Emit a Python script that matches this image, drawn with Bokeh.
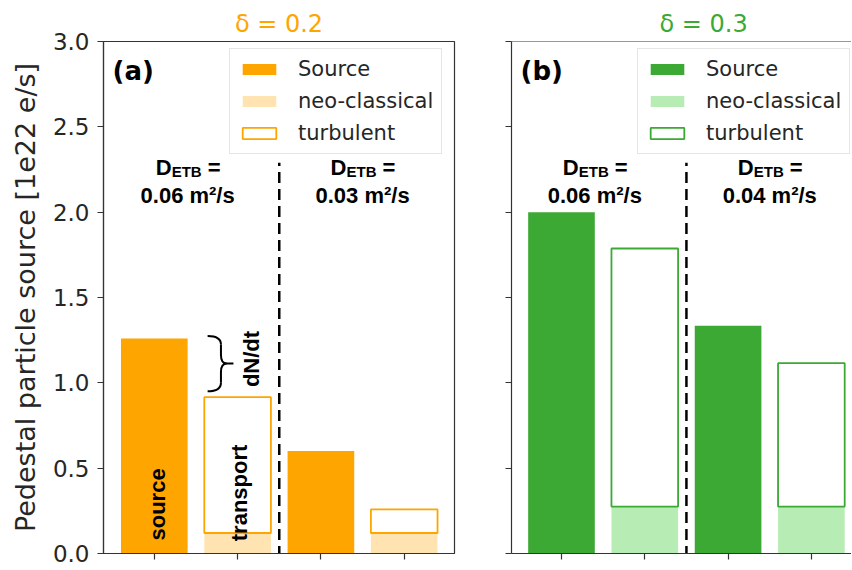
from math import pi
from bokeh.plotting import figure
from bokeh.models import (Range1d, FixedTicker, PrintfTickFormatter, Label, Span,
                          Legend, LegendItem)
from bokeh.layouts import row
from bokeh.embed import file_html
from bokeh.resources import INLINE

# ---------------- data ----------------
source_x = [0, 2]
transport_x = [1, 3]
x_ticks = [0, 1, 2, 3]
y_ticks = [0.0, 0.5, 1.0, 1.5, 2.0, 2.5, 3.0]

a_source = [1.26, 0.60]
a_neo = [0.12, 0.12]
a_turb = [0.796, 0.138]

b_source = [2.00, 1.335]
b_neo = [0.275, 0.275]
b_turb = [1.512, 0.84]

panel_titles = ["δ = 0.2", "δ = 0.3"]
panel_tags = ["(a)", "(b)"]
a_detb = ["0.06 m²/s", "0.03 m²/s"]
b_detb = ["0.06 m²/s", "0.04 m²/s"]
legend_labels = ["Source", "neo-classical", "turbulent"]
y_label = "Pedestal particle source [1e22 e/s]"

# ---------------- style ----------------
ORANGE = "#FFA500"
ORANGE_L = "#FFE4B2"
GREEN = "#3DA935"
GREEN_L = "#B8ECB5"
AX = "#333333"
TXT = "#262626"
BOLD = "Liberation Sans"
SANS = "DejaVu Sans"

Y_MIN, Y_MAX = 0.0, 3.0
FRAME_H = 512
PX_PER_UNIT = 83.3


def style_axes(p, show_labels):
    p.xgrid.visible = False
    p.ygrid.visible = False
    p.xaxis.ticker = FixedTicker(ticks=x_ticks)
    p.yaxis.ticker = FixedTicker(ticks=y_ticks)
    p.yaxis.formatter = PrintfTickFormatter(format="%.1f")
    for ax in (p.xaxis, p.yaxis):
        ax.axis_line_color = AX
        ax.axis_line_width = 1.2
        ax.major_tick_line_color = AX
        ax.major_tick_line_width = 1.2
        ax.major_tick_out = 6
        ax.major_tick_in = 0
        ax.minor_tick_line_color = None
    p.xaxis.major_label_overrides = {t: "" for t in x_ticks}
    p.xaxis.major_label_standoff = 0
    if show_labels:
        p.yaxis.major_label_text_font_size = "23px"
        p.yaxis.major_label_text_font = SANS
        p.yaxis.major_label_text_color = TXT
        p.yaxis.major_label_standoff = 8
        p.yaxis.axis_label = y_label
        p.yaxis.axis_label_text_font = SANS
        p.yaxis.axis_label_text_font_size = "27px"
        p.yaxis.axis_label_text_font_style = "normal"
        p.yaxis.axis_label_text_color = TXT
        p.yaxis.axis_label_standoff = 9
    else:
        p.yaxis.major_label_overrides = {t: "" for t in y_ticks}
        p.yaxis.major_label_standoff = 0


def style_title(p, text, color, align, offset):
    p.title.text = text
    p.title.align = align
    p.title.offset = offset
    p.title.text_font = SANS
    p.title.text_font_size = "24px"
    p.title.text_font_style = "normal"
    p.title.text_color = color
    p.title.standoff = 8


def add_panel(p, source, neo, turb, dark, light, tag, detb):
    turb_top = [n + t for n, t in zip(neo, turb)]
    r_src = p.vbar(x=source_x, top=source, bottom=0, width=0.8,
                   fill_color=dark, line_color=None)
    r_neo = p.vbar(x=transport_x, top=neo, bottom=0, width=0.8,
                   fill_color=light, line_color=None)
    r_turb = p.vbar(x=transport_x, top=turb_top, bottom=neo, width=0.8,
                    fill_color="white", line_color=dark, line_width=1.8)

    divider_x = (transport_x[0] + source_x[1]) / 2
    p.segment(x0=[divider_x], y0=[Y_MIN - 0.02], x1=[divider_x], y1=[2.29],
              line_color="black", line_width=2.5, line_dash="11 6")

    legend = Legend(items=[LegendItem(label=legend_labels[0], renderers=[r_src]),
                           LegendItem(label=legend_labels[1], renderers=[r_neo]),
                           LegendItem(label=legend_labels[2], renderers=[r_turb])],
                    location=(126, 399), margin=0, padding=8, spacing=8,
                    glyph_width=42, glyph_height=14, label_standoff=18,
                    label_height=24,
                    label_text_font=SANS, label_text_font_size="21px",
                    label_text_color=TXT,
                    border_line_color="#cccccc", border_line_width=1,
                    background_fill_color="white", background_fill_alpha=0.8)
    p.add_layout(legend)

    p.add_layout(Label(x=9, y=FRAME_H - 29, x_units="screen", y_units="screen",
                       text=tag, text_font=SANS, text_font_size="26px",
                       text_font_style="bold", text_color="black",
                       text_baseline="alphabetic"))

    centers = [0.4, 2.5]
    for cx, val in zip(centers, detb):
        common = dict(x=cx, text_font=BOLD, text_font_style="bold",
                      text_color="black", text_baseline="alphabetic")
        p.add_layout(Label(y=2.262, text="D", x_offset=-32, text_align="left",
                           text_font_size="22px", **common))
        p.add_layout(Label(y=2.262, text="ETB", x_offset=-16, y_offset=-4,
                           text_align="left", text_font_size="15px", **common))
        p.add_layout(Label(y=2.262, text="=", x_offset=20, text_align="left",
                           text_font_size="22px", **common))
        p.add_layout(Label(y=2.100, text=val, text_align="center",
                           text_font_size="22px", **common))
    return r_src


# ---------------- panel (a) ----------------
p1 = figure(width=464, height=569, output_backend="svg", toolbar_location=None,
            x_range=Range1d(-0.61, -0.61 + 351 / PX_PER_UNIT),
            y_range=Range1d(Y_MIN, Y_MAX),
            min_border_left=103, min_border_right=10, min_border_top=41,
            min_border_bottom=16)
p1.outline_line_color = AX
p1.outline_line_width = 1.2
p1.background_fill_color = "white"
p1.border_fill_color = "white"
style_axes(p1, True)
style_title(p1, panel_titles[0], ORANGE, "center", 0)
add_panel(p1, a_source, a_neo, a_turb, ORANGE, ORANGE_L, panel_tags[0], a_detb)

# rotated annotations and brace in panel (a)
ann = dict(text_font=BOLD, text_font_style="bold", text_font_size="22px",
           text_color="black", angle=pi / 2, text_align="left",
           text_baseline="middle")
p1.add_layout(Label(x=source_x[0], y=0.076, text="source", x_offset=3, **ann))
p1.add_layout(Label(x=transport_x[0], y=0.072, text="transport", x_offset=2, **ann))
p1.add_layout(Label(x=1.17, y=0.975, text="dN/dt", **ann))

yt = a_source[0] + 0.015
yb = a_neo[0] + a_turb[0] + 0.035
ym = (yt + yb) / 2
ry = 0.05
xl, xm, xk, xt = 0.64, 0.80, 0.87, 0.95
p1.quadratic(x0=[xl, xm, xk, xm], y0=[yt, ym + ry, ym, yb + ry],
             x1=[xm, xk, xm, xl], y1=[yt - ry, ym, ym - ry, yb],
             cx=[xm, xm, xm, xm], cy=[yt, ym, ym, yb],
             line_color="black", line_width=2)
p1.segment(x0=[xm, xm, xk], y0=[yt - ry, ym - ry, ym],
           x1=[xm, xm, xt], y1=[ym + ry, yb + ry, ym],
           line_color="black", line_width=2)

# ---------------- panel (b) ----------------
p2 = figure(width=387, height=569, output_backend="svg", toolbar_location=None,
            x_range=Range1d(-0.6, -0.6 + 340 / PX_PER_UNIT),
            y_range=Range1d(Y_MIN, Y_MAX),
            min_border_left=47, min_border_right=0, min_border_top=41,
            min_border_bottom=16)
p2.outline_line_color = None
p2.background_fill_color = "white"
p2.border_fill_color = "white"
style_axes(p2, False)
style_title(p2, panel_titles[1], GREEN, "left", 148)
p2.add_layout(Span(location=Y_MAX, dimension="width", line_color=AX, line_width=1.2))
add_panel(p2, b_source, b_neo, b_turb, GREEN, GREEN_L, panel_tags[1], b_detb)

layout = row(p1, p2)
open("out.html", "w").write(file_html(layout, INLINE))
